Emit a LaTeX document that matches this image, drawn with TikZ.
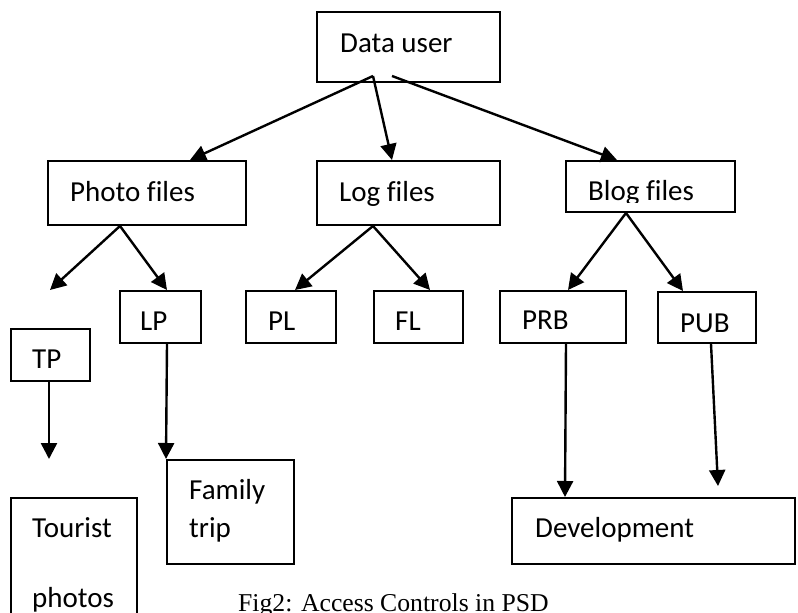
\documentclass[tikz,border=0pt]{standalone}
\usepackage{fontspec}
\setmainfont{Carlito}[Ligatures={NoCommon}]
\newfontfamily\capfont{Liberation Serif}
\usetikzlibrary{arrows.meta,calc}

\tikzset{
  box/.style={draw, line width=2pt, rectangle, inner sep=0pt},
  lbl/.style={anchor=base west, inner sep=0pt, font=\fontsize{29}{35}\selectfont},
  arr/.style={line width=2.4pt, -{Triangle[length=16pt,width=16pt]}},
}

\begin{document}
\begin{tikzpicture}[x=1pt,y=-1pt]
\clip (0,0) rectangle (798,613);
\fill[white] (0,0) rectangle (798,613);

% boxes
\node[box, minimum width=183pt, minimum height=70pt]  (du)  at (408.5,47)   {};
\node[box, minimum width=198pt, minimum height=64pt]  (pf)  at (147,193)    {};
\node[box, minimum width=183pt, minimum height=64pt]  (lf)  at (408.5,193)  {};
\node[box, minimum width=169pt, minimum height=51pt]  (bf)  at (650.5,186.5){};
\node[box, minimum width=79pt,  minimum height=52pt]  (tp)  at (50.5,355)   {};
\node[box, minimum width=81pt,  minimum height=52pt]  (lp)  at (160.5,317)  {};
\node[box, minimum width=90pt,  minimum height=52pt]  (pl)  at (291,317)    {};
\node[box, minimum width=89pt,  minimum height=52pt]  (fl)  at (418.5,317)  {};
\node[box, minimum width=126pt, minimum height=52pt]  (prb) at (563,317)    {};
\node[box, minimum width=98pt,  minimum height=51pt]  (pub) at (707,317.5)  {};
\node[box, minimum width=127pt, minimum height=104pt] (ft)  at (230.5,512)  {};
\node[box, minimum width=126pt, minimum height=130pt] (tph) at (74,563)     {};
\node[box, minimum width=283pt, minimum height=66pt]  (dev) at (653.5,531)  {};

% labels
\node[lbl] (tdu)  at (340,52)  {Data user};
\node[lbl] (tpf)  at (70,201)  {Photo files};
\node[lbl] (tlf)  at (339,201) {Log files};
\begin{scope}
  \clip (566,161) rectangle (735,202);
  \node[lbl] (tbf) at (588,200) {Blog files};
\end{scope}
\node[lbl] (ttp)  at (32,368)  {TP};
\node[lbl] (tlp)  at (140,330) {LP};
\node[lbl] (tpl)  at (268,330) {PL};
\node[lbl] (tfl)  at (395,330) {FL};
\node[lbl] (tprb) at (522,329) {PRB};
\node[lbl] (tpub) at (680,332) {PUB};
\node[lbl] (tft1) at (189,499) {Family};
\node[lbl] (tft2) at (189,537) {trip};
\node[lbl] (tph1) at (32,537)  {Tourist};
\node[lbl] (tph2) at (32,607)  {photos};
\node[lbl] (tdev) at (535,537) {Development};

% caption
\node[anchor=base west, inner sep=0pt, font=\capfont\fontsize{25.7}{30}\selectfont] (cap)
  at (238,611) {Fig2: Access Controls in PSD};

% free arrow ends
\coordinate (tpend)  at (50,290);
\coordinate (tpdown) at (49,459);
\coordinate (pubend) at (718,486);

% connectors
\draw[arr] ($(du.south)+(-35.5,-7)$) -- ($(pf.north)+(43,0)$);
\draw[arr] ($(du.south)+(-35.5,-7)$) -- ($(lf.north)+(-16.5,0)$);
\draw[arr] ($(du.south)+(-16.5,-7)$) -- ($(bf.north)+(-33.5,0)$);

\draw[arr] ($(pf.south)+(-27,0)$) -- (tpend);
\draw[arr] ($(pf.south)+(-27,0)$) -- ($(lp.north)+(6.5,0)$);

\draw[arr] ($(lf.south)+(-35.5,0)$) -- ($(pl.north)+(4,0)$);
\draw[arr] ($(lf.south)+(-35.5,0)$) -- ($(fl.north)+(11.5,0)$);

\draw[arr] ($(bf.south)+(-24.5,0)$) -- ($(prb.north)+(5,0)$);
\draw[arr] ($(bf.south)+(-24.5,0)$) -- ($(pub.north)+(-24,0)$);

\draw[arr] ($(tp.south)+(-1.5,0)$) -- (tpdown);
\draw[arr] ($(lp.south)+(6.5,0)$) -- (ft.north west);
\draw[arr] ($(prb.south)+(3,0)$) -- ($(dev.north west)+(54,0)$);
\draw[arr] ($(pub.south)+(4,0)$) -- (pubend);
\end{tikzpicture}
\end{document}
